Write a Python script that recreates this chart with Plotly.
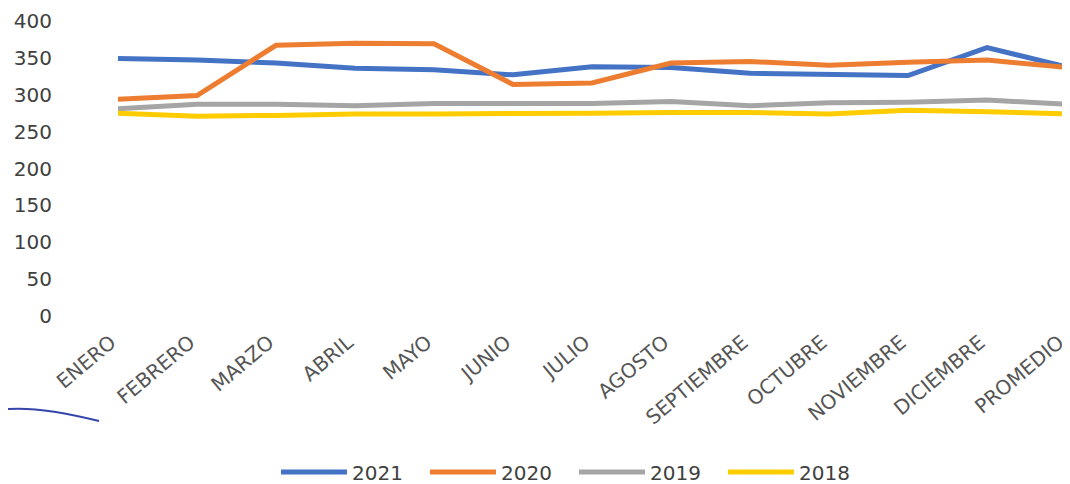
import plotly.graph_objects as go

categories = ["ENERO", "FEBRERO", "MARZO", "ABRIL", "MAYO", "JUNIO", "JULIO",
              "AGOSTO", "SEPTIEMBRE", "OCTUBRE", "NOVIEMBRE", "DICIEMBRE", "PROMEDIO"]

s2021 = [349, 347, 343, 336, 334, 327, 338, 337, 329, 327, 326, 364, 338]
s2020 = [294, 299, 367, 370, 369, 314, 316, 343, 345, 340, 344, 347, 337]
s2019 = [281, 287, 287, 285, 288, 288, 288, 291, 285, 289, 290, 293, 287]
s2018 = [275, 271, 272, 274, 274, 274, 275, 276, 276, 274, 279, 277, 274]

y_ticks = [0, 50, 100, 150, 200, 250, 300, 350, 400]

series = [("2021", s2021, "#4472C4"),
          ("2020", s2020, "#ED7D31"),
          ("2019", s2019, "#A5A5A5"),
          ("2018", s2018, "#FFCC00")]

fig = go.Figure()
for name, vals, color in series:
    fig.add_trace(go.Scatter(x=categories, y=vals, name=name, mode="lines",
                             line=dict(color=color, width=5)))

fig.update_layout(
    width=1062, height=476,
    margin=dict(l=110, r=4, t=13, b=168, autoexpand=False),
    paper_bgcolor="white", plot_bgcolor="white",
    font=dict(family="DejaVu Sans", color="#404040"),
    showlegend=True,
    legend=dict(orientation="h", x=0.481, xanchor="center", y=-0.529, yanchor="middle",
                font=dict(size=20, family="DejaVu Sans", color="#404040"),
                itemwidth=66, entrywidth=68, traceorder="normal"),
    xaxis=dict(type="category", range=[0, 12], showgrid=False, showline=False,
               zeroline=False, tickangle=-40, ticks="", ticklabelstandoff=10,
               ticklabelshift=-7,
               tickfont=dict(size=20, family="DejaVu Sans", color="#555555")),
    yaxis=dict(range=[0, 400], tickvals=y_ticks, showgrid=False, showline=False,
               zeroline=False, ticks="", ticklabelstandoff=65,
               tickfont=dict(size=20, family="DejaVu Sans", color="#404040")),
    shapes=[dict(type="path", xref="paper", yref="paper",
                 path="M -0.1245 -0.319 Q -0.09 -0.3 -0.02 -0.356",
                 line=dict(color="#3344AA", width=2))],
)

fig.write_html("out.html")
